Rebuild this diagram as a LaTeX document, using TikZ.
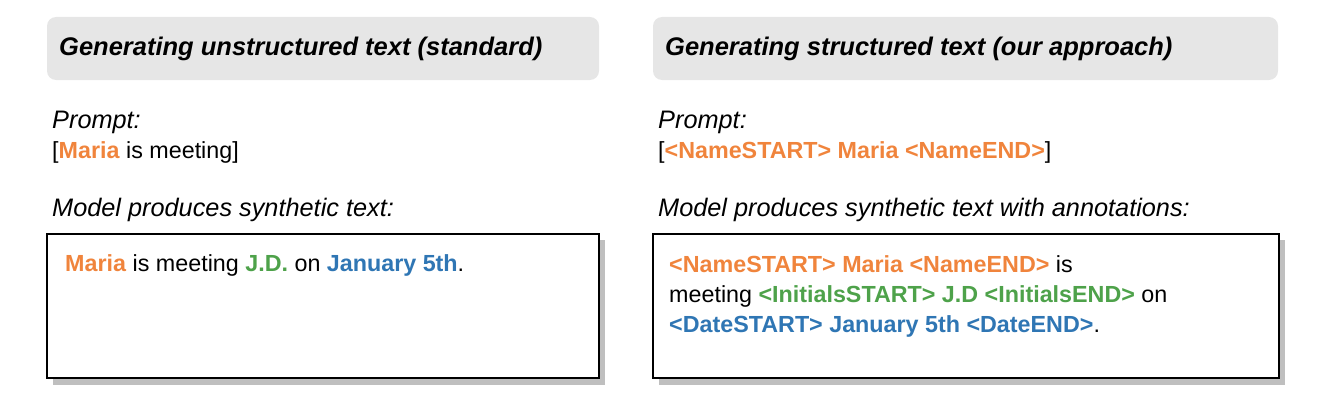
\documentclass[tikz,border=0pt]{standalone}
\usepackage{fontspec}
\setmainfont{Liberation Sans}
\definecolor{hdrgray}{HTML}{E6E6E6}
\definecolor{shadowgray}{HTML}{BFBFBF}
\definecolor{tagorange}{HTML}{F0843C}
\definecolor{taggreen}{HTML}{4EA24A}
\definecolor{tagblue}{HTML}{2F76B4}
\newcommand{\orn}[1]{\textcolor{tagorange}{\textbf{#1}}}
\newcommand{\grn}[1]{\textcolor{taggreen}{\textbf{#1}}}
\newcommand{\blu}[1]{\textcolor{tagblue}{\textbf{#1}}}
\tikzset{
  hdrbox/.style={fill=hdrgray, rounded corners=9pt, draw=none},
  outbox/.style={draw=black, line width=2pt, fill=white},
  shadowbox/.style={fill=shadowgray, draw=none},
  txt/.style={anchor=base west, inner sep=0pt, font=\fontsize{23.3}{28}\selectfont},
  hdrtxt/.style={txt, font=\fontsize{25.5}{30}\selectfont\bfseries\itshape},
  labtxt/.style={txt, font=\fontsize{25.3}{30}\selectfont\itshape}
}
\begin{document}
\begin{tikzpicture}[x=1pt,y=-1pt]
\useasboundingbox (0,0) rectangle (1322,404);
% headers
\path[hdrbox] (47,17) rectangle (599,80);
\path[hdrbox] (653,17) rectangle (1278,80);
\node[hdrtxt] (h1) at (59,56) {Generating unstructured text (standard)};
\node[hdrtxt] (h2) at (665,56) {Generating structured text (our approach)};
% prompts
\node[labtxt] (p1) at (52,128) {Prompt:};
\node[txt] (p1b) at (52,158) {[\orn{Maria} is meeting]};
\node[labtxt] (p2) at (658,128) {Prompt:};
\node[txt] (p2b) at (658,158) {[\orn{<NameSTART> Maria <NameEND>}]};
\node[labtxt] (m1) at (52,216) {Model produces synthetic text:};
\node[labtxt] (m2) at (658,216) {Model produces synthetic text with annotations:};
% output boxes
\path[shadowbox] (53,240) rectangle (605,385);
\draw[outbox] (47,234) rectangle (599,378);
\path[shadowbox] (659,240) rectangle (1285,385);
\draw[outbox] (653,234) rectangle (1279,378);
\node[txt] (o1) at (65,271) {\orn{Maria} is meeting \grn{J.D.} on \blu{January 5th}.};
\node[txt] (o2a) at (669,272) {\orn{<NameSTART> Maria <NameEND>} is};
\node[txt] (o2b) at (669,302) {meeting \grn{<InitialsSTART> J.D <InitialsEND>} on};
\node[txt] (o2c) at (669,332) {\blu{<DateSTART> January 5th <DateEND>}.};
\end{tikzpicture}
\end{document}
